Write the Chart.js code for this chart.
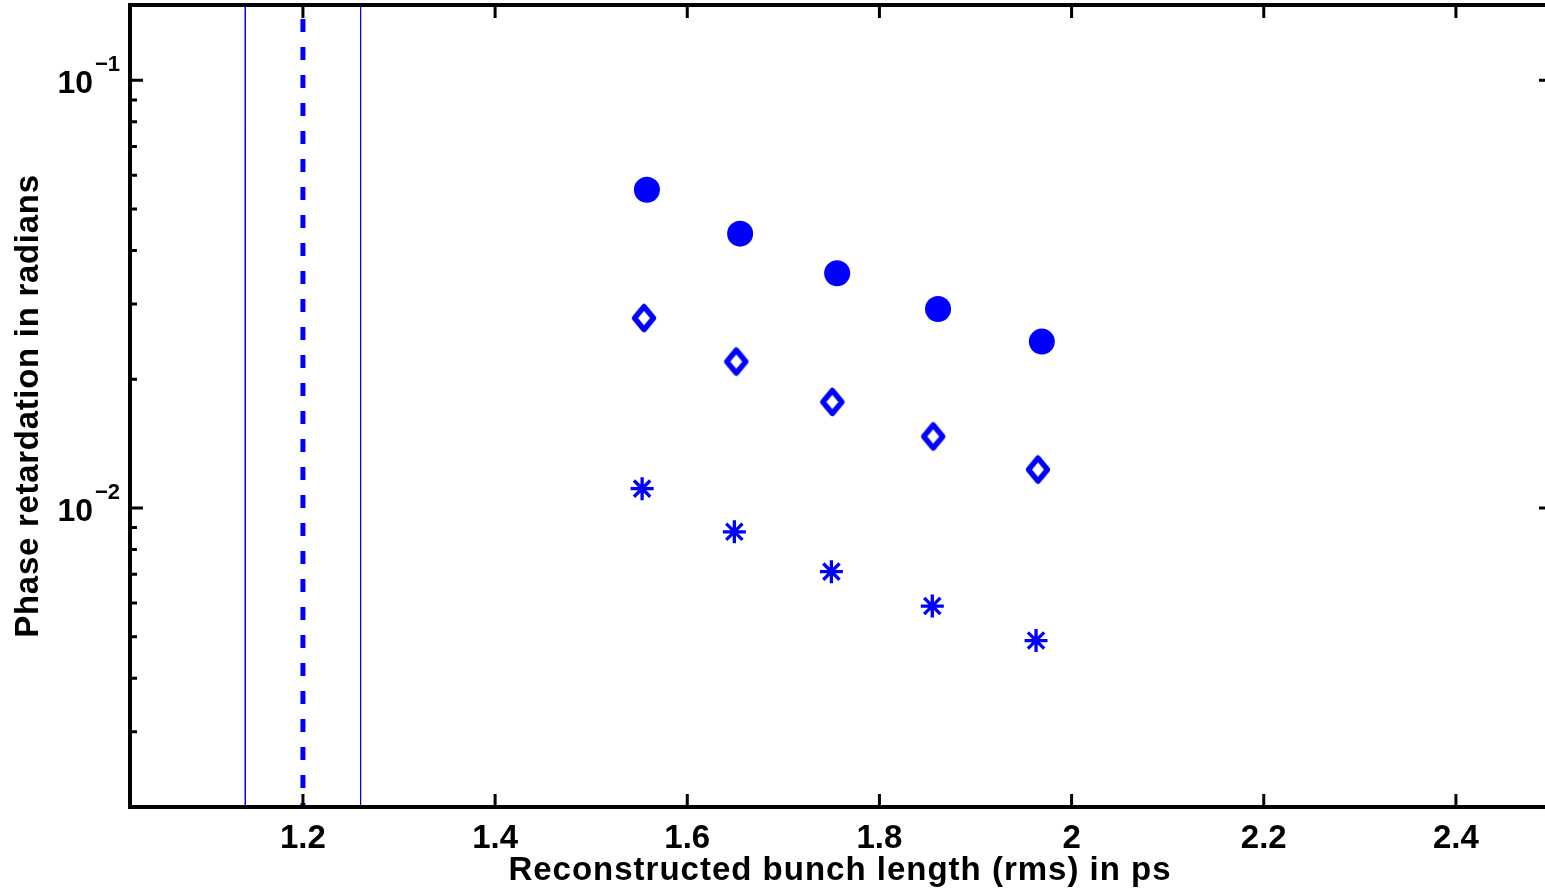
<!DOCTYPE html>
<html>
<head>
<meta charset="utf-8">
<script src="https://cdn.jsdelivr.net/npm/chart.js@4/dist/chart.umd.min.js"></script>
<style>
  html, body { margin: 0; padding: 0; background: #fff; overflow: hidden; }
  #wrap { width: 1555px; height: 891px; }
</style>
</head>
<body>
<div id="wrap"><canvas id="phaseChart" width="1555" height="891"></canvas></div>
<script>
// bunch length (ps) and phase retardation (rad) for the three series
const bunchLenA = [1.558, 1.655, 1.756, 1.861, 1.969];
const phaseA    = [0.0555, 0.0438, 0.0354, 0.0292, 0.0245];
const bunchLenB = [1.555, 1.651, 1.751, 1.856, 1.965];
const phaseB    = [0.0278, 0.0220, 0.0177, 0.0147, 0.0123];
const bunchLenC = [1.553, 1.649, 1.750, 1.855, 1.963];
const phaseC    = [0.0111, 0.0088, 0.0071, 0.0059, 0.0049];

// measured bunch length and its error band
const refLength = 1.2;
const refBand = [1.14, 1.26];

// axis limits and ticks
const xRange = [1.02, 2.5];
const yRange = [0.002, 0.15];
const xTicks = [1.2, 1.4, 1.6, 1.8, 2.0, 2.2, 2.4];
const xTickLabels = ['1.2', '1.4', '1.6', '1.8', '2', '2.2', '2.4'];
const yMajorTicks = [0.01, 0.1];
const yMajorExp = ['\u22122', '\u22121'];
const yMinorTicks = [0.003, 0.004, 0.005, 0.006, 0.007, 0.008, 0.009,
                     0.02, 0.03, 0.04, 0.05, 0.06, 0.07, 0.08, 0.09];

const BLUE = '#0000ff';
const FONT = '"Liberation Sans", Arial, Helvetica, sans-serif';

function pts(xs, ys) {
  return xs.map((x, i) => ({ x: x, y: ys[i] }));
}

function vline(x) {
  return [{ x: x, y: yRange[1] }, { x: x, y: yRange[0] }];
}

// open diamond marker with thick rounded outline
function diamondMarker() {
  const c = document.createElement('canvas');
  c.width = 34; c.height = 38;
  const g = c.getContext('2d');
  g.strokeStyle = BLUE;
  g.lineWidth = 5.5;
  g.lineJoin = 'round';
  g.beginPath();
  g.moveTo(17, 7.5);
  g.lineTo(26.5, 19);
  g.lineTo(17, 30.5);
  g.lineTo(7.5, 19);
  g.closePath();
  g.stroke();
  return c;
}

// box, inward ticks and labels drawn in the matlab style
const axesBoxPlugin = {
  id: 'axesBox',
  afterDraw(chart) {
    const { ctx, chartArea: { left, right, top, bottom } } = chart;
    const xs = chart.scales.x, ys = chart.scales.y;
    ctx.save();
    ctx.strokeStyle = '#000';
    ctx.lineCap = 'butt';

    // ticks
    ctx.lineWidth = 3;
    ctx.beginPath();
    xTicks.forEach(v => {
      const px = xs.getPixelForValue(v);
      ctx.moveTo(px, bottom); ctx.lineTo(px, bottom - 13);
      ctx.moveTo(px, top); ctx.lineTo(px, top + 13);
    });
    yMajorTicks.forEach(v => {
      const py = ys.getPixelForValue(v);
      ctx.moveTo(left, py); ctx.lineTo(left + 13, py);
      ctx.moveTo(right, py); ctx.lineTo(right - 13, py);
    });
    yMinorTicks.forEach(v => {
      const py = ys.getPixelForValue(v);
      ctx.moveTo(left, py); ctx.lineTo(left + 7, py);
      ctx.moveTo(right, py); ctx.lineTo(right - 7, py);
    });
    ctx.stroke();

    // box
    ctx.lineWidth = 4;
    ctx.strokeRect(left, top, right - left, bottom - top);

    // tick labels
    ctx.fillStyle = '#000';
    ctx.font = 'bold 33px ' + FONT;
    ctx.textAlign = 'center';
    ctx.textBaseline = 'alphabetic';
    xTicks.forEach((v, i) => {
      ctx.fillText(xTickLabels[i], xs.getPixelForValue(v), bottom + 41);
    });
    yMajorTicks.forEach((v, i) => {
      const py = ys.getPixelForValue(v);
      ctx.font = 'bold 32px ' + FONT;
      ctx.textAlign = 'right';
      ctx.fillText('10', left - 37, py + 13);
      ctx.font = 'bold 22px ' + FONT;
      ctx.textAlign = 'left';
      ctx.fillText(yMajorExp[i], left - 35, py - 9);
    });

    // axis titles
    ctx.font = 'bold 33px ' + FONT;
    ctx.letterSpacing = '1px';
    ctx.textAlign = 'center';
    ctx.fillText('Reconstructed bunch length (rms) in ps', 840, 880);
    ctx.letterSpacing = '0.7px';
    ctx.translate(38, 406);
    ctx.rotate(-Math.PI / 2);
    ctx.fillText('Phase retardation in radians', 0, 0);
    ctx.restore();
  }
};

new Chart(document.getElementById('phaseChart'), {
  type: 'scatter',
  data: {
    datasets: [
      { data: vline(refBand[0]), showLine: true, borderColor: BLUE, borderWidth: 1,
        pointRadius: 0 },
      { data: vline(refBand[1]), showLine: true, borderColor: BLUE, borderWidth: 1,
        pointRadius: 0 },
      { data: vline(refLength), showLine: true, borderColor: BLUE, borderWidth: 5,
        borderDash: [13, 15], borderDashOffset: 14, pointRadius: 0 },
      { data: pts(bunchLenA, phaseA), pointStyle: 'circle', pointRadius: 13,
        backgroundColor: BLUE, borderColor: BLUE, borderWidth: 0 },
      { data: pts(bunchLenB, phaseB), pointStyle: diamondMarker(), pointRadius: 14 },
      { data: pts(bunchLenC, phaseC), pointStyle: 'star', pointRadius: 11.5,
        borderColor: BLUE, backgroundColor: BLUE, borderWidth: 3.3 }
    ]
  },
  options: {
    responsive: false,
    animation: false,
    layout: { autoPadding: false, padding: { left: 130, right: 3, top: 5, bottom: 84 } },
    plugins: { legend: { display: false }, tooltip: { enabled: false } },
    scales: {
      x: { type: 'linear', display: false, min: xRange[0], max: xRange[1] },
      y: { type: 'logarithmic', display: false, min: yRange[0], max: yRange[1] }
    }
  },
  plugins: [axesBoxPlugin]
});
</script>
</body>
</html>
